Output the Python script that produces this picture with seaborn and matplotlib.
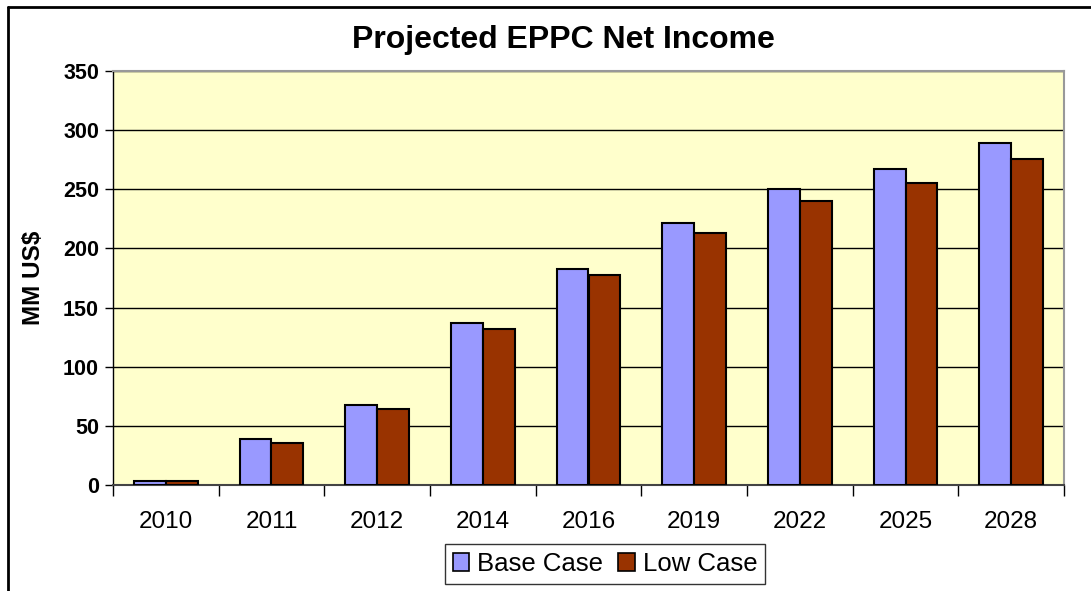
import matplotlib
matplotlib.use("Agg")
import matplotlib.pyplot as plt
from matplotlib.lines import Line2D
from matplotlib.patches import Patch
import seaborn as sns
import pandas as pd

years = ["2010", "2011", "2012", "2014", "2016", "2019", "2022", "2025", "2028"]
base_case = [3, 39, 67.5, 137, 182.5, 221.5, 250, 267, 289]
low_case = [3, 35.5, 64, 132, 177.5, 213, 240, 255, 275.5]
series_names = ["Base Case", "Low Case"]
colors = ["#9999FF", "#993300"]

df = pd.DataFrame({
    "Year": years * 2,
    "Value": base_case + low_case,
    "Series": [series_names[0]] * len(years) + [series_names[1]] * len(years),
})

sns.set_theme(style="white")
plt.rcParams["font.family"] = ["Liberation Sans", "DejaVu Sans"]
plt.rcParams["text.color"] = "black"
plt.rcParams["axes.labelcolor"] = "black"
plt.rcParams["xtick.color"] = "black"
plt.rcParams["ytick.color"] = "black"

W, H = 1091, 591
fig = plt.figure(figsize=(W / 100, H / 100), dpi=100)
ax = fig.add_axes([113 / W, 1 - 485 / H, (1064 - 113) / W, (485 - 71) / H])
ax.set_facecolor("#FFFFCC")

sns.barplot(data=df, x="Year", y="Value", hue="Series", order=years,
            hue_order=series_names, palette=colors, width=0.6, ax=ax,
            edgecolor="black", linewidth=1.5, legend=False, zorder=3,
            saturation=1)

ax.set_xlim(-0.5, len(years) - 0.5)
ax.set_ylim(0, 350)
ax.set_yticks(range(0, 351, 50))
ax.yaxis.grid(True, color="black", linewidth=1, zorder=1)
ax.xaxis.grid(False)
ax.set_axisbelow(True)

ax.tick_params(axis="y", which="major", length=6, width=1, color="black",
               labelcolor="black", direction="out", left=True, labelsize=15.5,
               pad=4)
for lbl in ax.get_yticklabels():
    lbl.set_fontweight("bold")
ax.set_xticks(range(len(years)))
ax.set_xticklabels(years)
ax.set_xticks([i + 0.5 for i in range(-1, len(years))], minor=True)
ax.tick_params(axis="x", which="major", length=0, labelsize=17.5, pad=19,
               labelcolor="black")
ax.tick_params(axis="x", which="minor", length=8, width=1, color="black",
               direction="out", bottom=True)

ax.set_xlabel("")
ax.set_ylabel("MM US$", fontsize=17.5, fontweight="bold", labelpad=13,
              color="black")

for side in ["top", "right"]:
    ax.spines[side].set_color("#999999")
    ax.spines[side].set_linewidth(1.5)
ax.spines["left"].set_color("black")
ax.spines["left"].set_linewidth(1)
ax.spines["bottom"].set_color("#444444")
ax.spines["bottom"].set_linewidth(1.5)

fig.text(563 / W, 1 - 40 / H, "Projected EPPC Net Income", ha="center",
         va="center", fontsize=23, fontweight="bold", color="black")

handles = [Patch(facecolor=c, edgecolor="black", linewidth=1.2) for c in colors]
leg = fig.legend(handles, series_names, loc="center", ncol=2,
                 bbox_to_anchor=(605 / W, 1 - 564 / H), fontsize=18.5,
                 frameon=True, fancybox=False, edgecolor="black",
                 handlelength=0.65, handleheight=0.65, handletextpad=0.3,
                 columnspacing=0.6, borderpad=0.3, borderaxespad=0)
leg.get_frame().set_linewidth(1)
for t in leg.get_texts():
    t.set_color("black")

fig.add_artist(Line2D([8 / W, 1], [1 - 7 / H, 1 - 7 / H], color="black",
                      linewidth=2, transform=fig.transFigure))
fig.add_artist(Line2D([8 / W, 8 / W], [1 - 7 / H, 0], color="black",
                      linewidth=2, transform=fig.transFigure))

fig.savefig("out.png", dpi=100, facecolor="white")
